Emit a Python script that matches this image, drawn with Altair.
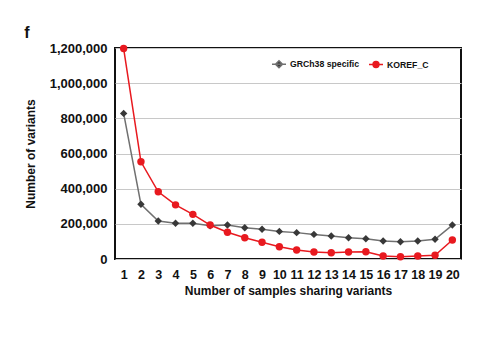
import altair as alt
import pandas as pd

samples = list(range(1, 21))
series_names = ["GRCh38 specific", "KOREF_C"]
grch38 = [828000, 311000, 216000, 203000, 203000, 189000, 193000, 178000, 169000, 157000,
          150000, 140000, 131000, 121000, 115000, 102000, 98000, 102000, 112000, 193000]
koref = [1197000, 553000, 382000, 308000, 254000, 193000, 152000, 121000, 95000, 70000,
         51000, 40000, 36000, 40000, 41000, 17000, 13000, 17000, 21000, 108000]
y_ticks = [0, 200000, 400000, 600000, 800000, 1000000, 1200000]

df = pd.DataFrame({
    "n": samples * 2,
    "value": grch38 + koref,
    "series": [series_names[0]] * 20 + [series_names[1]] * 20,
})

RED = "#e8191f"
DARK = "#383838"
GRAYLINE = "#707070"
FONT = "Liberation Sans"

x = alt.X("n:O", title="Number of samples sharing variants",
          scale=alt.Scale(padding=0.5),
          axis=alt.Axis(labelAngle=0, domain=False, ticks=False, labelPadding=9,
                        labelFontSize=12.5, labelFontWeight="bold", labelColor="#111",
                        titleFontSize=12, titleFontWeight="bold", titleColor="#111",
                        titlePadding=5, grid=False))
y = alt.Y("value:Q", title="Number of variants",
          scale=alt.Scale(domain=[0, 1200000], nice=False),
          axis=alt.Axis(values=y_ticks, format=",d", domain=False, ticks=False,
                        labelPadding=8, labelFontSize=13, labelFontWeight="bold",
                        labelColor="#111", titleFontSize=12, titleFontWeight="bold",
                        titleColor="#111", titlePadding=12, grid=True,
                        gridColor="#c8c8c8", gridWidth=1))

g = df[df.series == series_names[0]]
r = df[df.series == series_names[1]]

g_line = alt.Chart(g).mark_line(color=GRAYLINE, strokeWidth=1.5).encode(x=x, y=y)
g_pts = alt.Chart(g).mark_point(shape="diamond", filled=True, color=DARK, size=55, opacity=1).encode(x=x, y=y)
r_line = alt.Chart(r).mark_line(color=RED, strokeWidth=1.5).encode(x=x, y=y)
r_pts = alt.Chart(r).mark_point(shape="circle", filled=True, color=RED, size=55, opacity=1).encode(x=x, y=y)

leg_df = pd.DataFrame({"series": series_names, "v": [0, 0]})
diamond_path = "M-1,0H1M0,-0.5L0.5,0L0,0.5L-0.5,0Z"
circle_path = "M-1,0H1M-0.42,0A0.42,0.42 0 1,0 0.42,0A0.42,0.42 0 1,0 -0.42,0Z"
legend = alt.Legend(title=None, orient="none", legendX=156, legendY=8, direction="horizontal",
                    labelFont=FONT, labelFontSize=8.7, labelFontWeight="bold", labelColor="#111",
                    symbolSize=196, symbolStrokeWidth=1.5, labelOffset=3, columnPadding=6)
leg = alt.Chart(leg_df).mark_point(filled=True, opacity=1).encode(
    color=alt.Color("series:N", scale=alt.Scale(domain=series_names, range=[DARK, RED]), legend=legend),
    stroke=alt.Stroke("series:N", scale=alt.Scale(domain=series_names, range=[GRAYLINE, RED]), legend=legend),
    shape=alt.Shape("series:N", scale=alt.Scale(domain=series_names, range=[diamond_path, circle_path]), legend=legend),
).transform_filter("datum.v > 1")

chart = alt.layer(g_line, r_line, g_pts, r_pts, leg).properties(
    width=346, height=211,
    title=alt.TitleParams("f", anchor="start", frame="bounds", fontSize=16, fontWeight="bold",
                          font=FONT, color="#111", offset=1),
    autosize=alt.AutoSizeParams(type="none"),
    padding={"left": 115, "top": 48, "right": 19, "bottom": 80},
).configure(font=FONT, background="white").configure_view(stroke="#111", strokeWidth=2)

chart.save("out.html", embed_options={"renderer": "svg", "actions": False})
